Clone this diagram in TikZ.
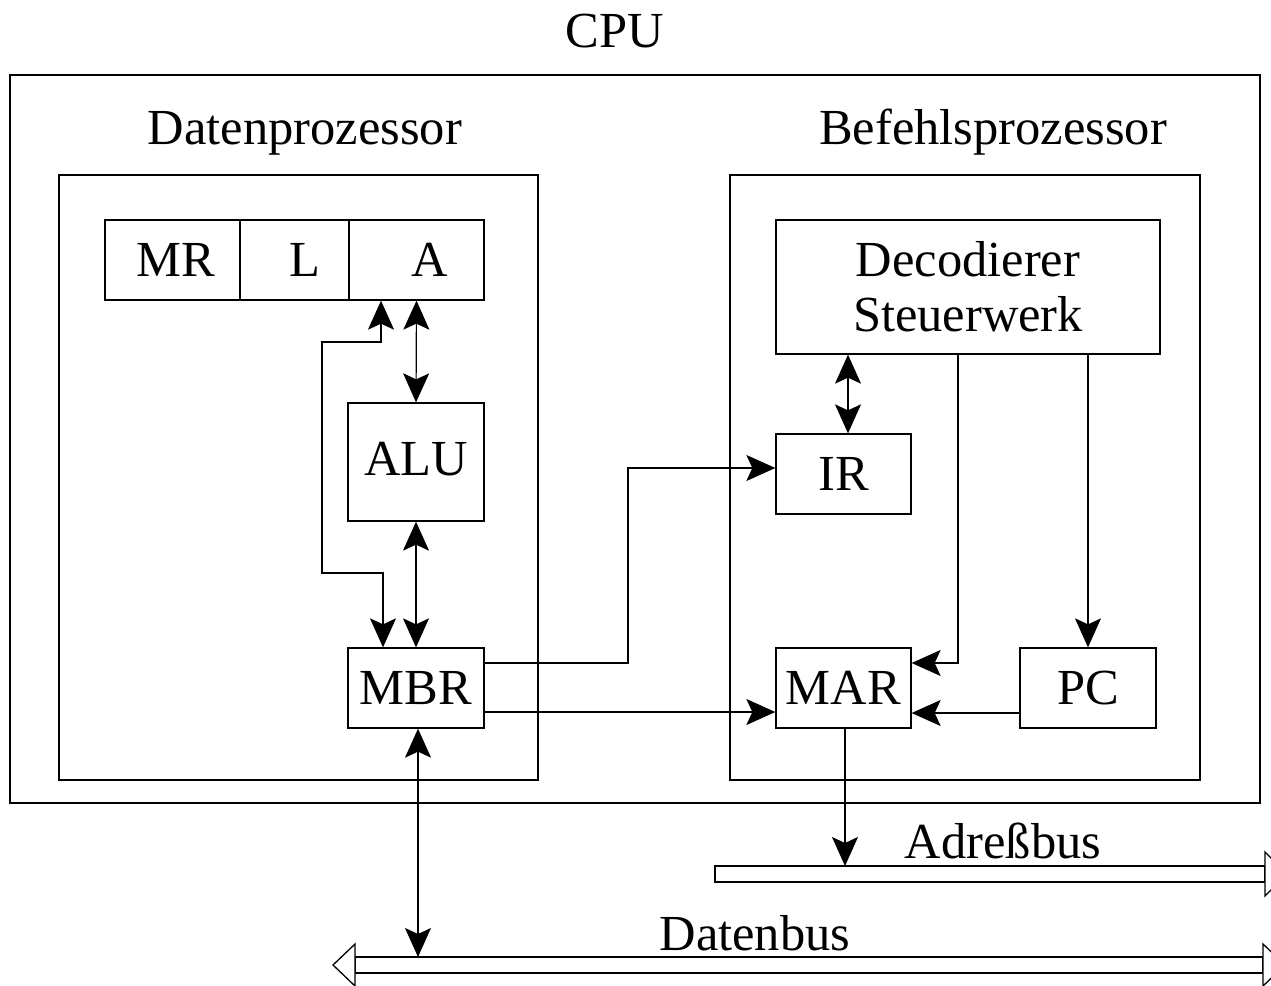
\documentclass[tikz,border=0pt]{standalone}
\usepackage{fontspec}
\setmainfont{Liberation Serif}
\usetikzlibrary{arrows.meta,calc}
\tikzset{
  lbl/.style={font=\fontsize{50.5}{55}\selectfont, inner sep=0pt},
  blk/.style={draw, line width=1.3pt, inner sep=0pt, font=\fontsize{50.5}{55}\selectfont},
  tip/.style={Stealth[length=29pt,width=26pt,inset=6pt]},
  conn/.style={line width=1.2pt, -{Stealth[length=29pt,width=26pt,inset=6pt]}},
  bconn/.style={line width=1.2pt, {Stealth[length=29pt,width=26pt,inset=6pt]}-{Stealth[length=29pt,width=26pt,inset=6pt]}},
  bus/.style={draw, line width=1.3pt, fill=white}
}
\begin{document}
\begin{tikzpicture}[x=1pt,y=-1pt]
\clip (0,0) rectangle (1271,985);

% frames
\node[blk, minimum width=1250pt, minimum height=728pt] (cpu) at (635,439) {};
\node[blk, minimum width=479pt, minimum height=605pt] (dp) at (298.5,477.5) {};
\node[blk, minimum width=470pt, minimum height=605pt] (bp) at (965,477.5) {};
\node[lbl, anchor=base] (cpulbl) at (615,47) {CPU};
\node[lbl, anchor=base] (dplbl) at (305,144) {Datenprozessor};
\node[lbl, anchor=base] (bplbl) at (993,144) {Befehlsprozessor};

% data processor
\node[blk, minimum width=135pt, minimum height=80pt] (mr) at (172.5,260) {\hspace*{7pt}MR};
\node[blk, minimum width=109pt, minimum height=80pt] (l) at (294.5,260) {\hspace*{21pt}L};
\node[blk, minimum width=135pt, minimum height=80pt] (a) at (416.5,260) {\hspace*{27pt}A};
\node[blk, minimum width=136pt, minimum height=118pt] (alu) at (416,462) {\raisebox{6pt}{ALU}};
\node[blk, minimum width=136pt, minimum height=80pt] (mbr) at (416,688) {MBR};

% instruction processor
\node[blk, minimum width=384pt, minimum height=134pt, align=center] (dec) at (968,287) {Decodierer\\Steuerwerk};
\node[blk, minimum width=135pt, minimum height=80pt] (ir) at (843.5,474) {IR};
\node[blk, minimum width=135pt, minimum height=80pt] (mar) at (843.5,688) {MAR};
\node[blk, minimum width=136pt, minimum height=80pt] (pc) at (1088,688) {PC};

% buses
\coordinate (abus) at (845,866);
\coordinate (dbus) at (418,957);
\draw[bus] (715,866) rectangle (1265,882);
\draw[bus] (1265,852) -- (1287,874) -- (1265,896) -- cycle;
\draw[bus] (355,957) rectangle (1263,973);
\draw[bus] (355,944) -- (333,965) -- (355,986) -- cycle;
\draw[bus] (1263,944) -- (1285,965) -- (1263,986) -- cycle;
\node[lbl, anchor=base] (ablbl) at (1003,858) {Adreßbus};
\node[lbl, anchor=base] (dblbl) at (755,950) {Datenbus};

% connectors
\coordinate (irtop) at ($(ir.north)+(4.5,0)$);
\draw[bconn] (a.south) -- (alu.north);
\draw[bconn] (alu.south) -- (mbr.north);
\draw[bconn] ($(a.south)+(-35.5,0)$) |- (322,342) -- (322,573) -| ($(mbr.north)+(-33,0)$);
\draw[conn] ([yshift=25pt]mbr.east) -- (628,663) |- ([yshift=6pt]ir.west);
\draw[conn] ([yshift=-24pt]mbr.east) -- ([yshift=-24pt]mar.west);
\draw[bconn] (irtop) -- (irtop |- dec.south);
\draw[conn] ($(dec.south)+(-10,0)$) |- ([yshift=25pt]mar.east);
\draw[conn] (dec.south -| pc.north) -- (pc.north);
\draw[conn] ([yshift=-25pt]pc.west) -- ([yshift=-25pt]mar.east);
\draw[conn] ($(mar.south)+(1.5,0)$) -- (abus);
\draw[bconn] ($(mbr.south)+(2,0)$) -- (dbus);
\end{tikzpicture}
\end{document}
